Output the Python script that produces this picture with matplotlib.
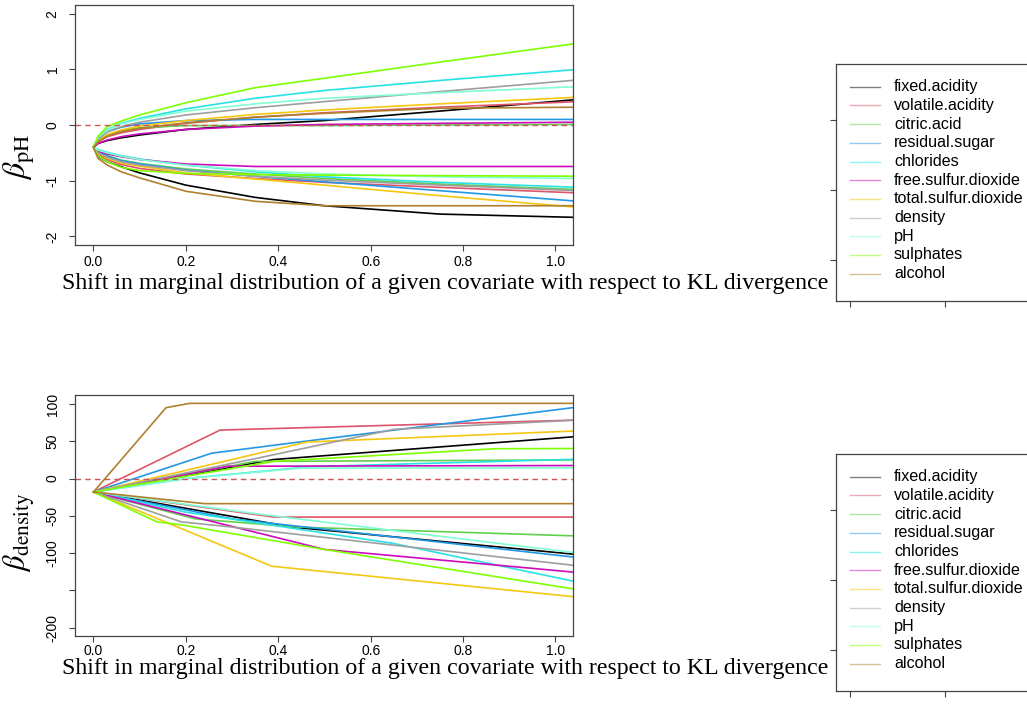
import matplotlib
matplotlib.use('Agg')
import matplotlib.pyplot as plt

plt.rcParams['font.family'] = ['Liberation Sans', 'DejaVu Sans']
plt.rcParams['mathtext.fontset'] = 'stix'
plt.rcParams['axes.unicode_minus'] = False

names = ['fixed.acidity', 'volatile.acidity', 'citric.acid', 'residual.sugar',
         'chlorides', 'free.sulfur.dioxide', 'total.sulfur.dioxide', 'density',
         'pH', 'sulphates', 'alcohol']
colors = ['black', '#DF536B', '#61D04F', '#2297E6', '#28E2E5', '#CD0BBC',
          '#F5C710', '#9E9E9E', '#7FFFD4', '#7FFF00', '#B0802E']

# panel 1: beta_pH, shift grid shared by all covariates
ph_x = [0, 0.01, 0.03, 0.06, 0.1, 0.2, 0.35, 0.5, 0.75, 1.05]
ph_up = [
    [-0.4, -0.33, -0.28, -0.23, -0.18, -0.08, 0.01, 0.08, 0.25, 0.46],
    [-0.4, -0.30, -0.21, -0.14, -0.08, 0.03, 0.14, 0.22, 0.32, 0.42],
    [-0.4, -0.28, -0.18, -0.10, -0.05, -0.01, -0.01, -0.01, 0.00, 0.01],
    [-0.4, -0.25, -0.12, -0.04, 0.02, 0.08, 0.10, 0.10, 0.10, 0.10],
    [-0.4, -0.22, -0.08, 0.03, 0.12, 0.29, 0.48, 0.62, 0.80, 1.00],
    [-0.4, -0.33, -0.27, -0.21, -0.16, -0.08, -0.02, 0.01, 0.03, 0.05],
    [-0.4, -0.28, -0.17, -0.09, -0.02, 0.08, 0.19, 0.27, 0.38, 0.50],
    [-0.4, -0.25, -0.12, -0.03, 0.05, 0.18, 0.31, 0.42, 0.60, 0.81],
    [-0.4, -0.22, -0.09, 0.02, 0.10, 0.25, 0.38, 0.48, 0.58, 0.69],
    [-0.4, -0.20, -0.03, 0.07, 0.18, 0.40, 0.67, 0.84, 1.13, 1.47],
    [-0.4, -0.30, -0.20, -0.12, -0.06, 0.04, 0.14, 0.21, 0.30, 0.32],
]
ph_down = [
    [-0.4, -0.56, -0.66, -0.75, -0.86, -1.08, -1.30, -1.45, -1.60, -1.66],
    [-0.4, -0.52, -0.62, -0.71, -0.78, -0.88, -0.96, -1.03, -1.12, -1.22],
    [-0.4, -0.47, -0.55, -0.63, -0.69, -0.79, -0.88, -0.96, -1.06, -1.16],
    [-0.4, -0.48, -0.56, -0.64, -0.70, -0.81, -0.92, -1.02, -1.18, -1.37],
    [-0.4, -0.44, -0.49, -0.55, -0.61, -0.72, -0.84, -0.93, -1.03, -1.12],
    [-0.4, -0.47, -0.52, -0.57, -0.62, -0.70, -0.745, -0.745, -0.745, -0.745],
    [-0.4, -0.50, -0.60, -0.68, -0.74, -0.86, -0.97, -1.08, -1.27, -1.48],
    [-0.4, -0.50, -0.58, -0.66, -0.72, -0.82, -0.92, -0.99, -1.08, -1.18],
    [-0.4, -0.45, -0.50, -0.56, -0.62, -0.72, -0.82, -0.88, -0.93, -0.96],
    [-0.4, -0.55, -0.66, -0.76, -0.82, -0.87, -0.89, -0.90, -0.91, -0.92],
    [-0.4, -0.60, -0.72, -0.84, -0.95, -1.19, -1.37, -1.45, -1.45, -1.45],
]

# panel 2: beta_density, each covariate has its own shift points
dens_up_x = [
    [0, 0.39, 1.05], [0, 0.274, 1.05], [0, 0.35, 1.05], [0, 0.256, 0.433, 1.05],
    [0, 0.2, 0.47, 1.05], [0, 0.29, 1.05], [0, 0.462, 1.05], [0, 0.36, 0.65, 1.05],
    [0, 0.2, 0.45, 1.05], [0, 0.39, 0.87, 1.05], [0, 0.157, 0.208, 1.05],
]
dens_up_y = [
    [-18, 25.5, 56.5], [-18, 65, 78.5], [-18, 23, 25], [-18, 34, 48, 96],
    [-18, 0, 16, 26], [-18, 16.5, 17.5], [-18, 49, 64], [-18, 28, 66, 78.5],
    [-18, 0, 14, 14.3], [-18, 23, 40, 40.3], [-18, 95, 100.8, 100.8],
]
dens_down_x = [
    [0, 0.43, 1.0, 1.05], [0, 0.39, 1.05], [0, 0.22, 0.44, 1.05], [0, 0.3, 1.05],
    [0, 0.2, 0.65, 1.05], [0, 0.39, 0.5, 1.05], [0, 0.386, 1.05], [0, 0.19, 0.3, 1.05],
    [0, 0.35, 1.05], [0, 0.137, 0.19, 0.5, 1.05], [0, 0.24, 1.05],
]
dens_down_y = [
    [-18, -65, -99, -102], [-18, -51.6, -51.6], [-18, -54, -65, -77], [-18, -54, -106],
    [-18, -45, -87, -139], [-18, -78, -95, -126], [-18, -117.5, -159], [-18, -58, -65, -117],
    [-18, -47, -100], [-18, -58, -62, -95, -149], [-18, -33.6, -33.6],
]

xlabel = 'Shift in marginal distribution of a given covariate with respect to KL divergence'

W, H = 1027, 704
fig = plt.figure(figsize=(W / 100, H / 100), dpi=100)


def style_axes(ax, xpad):
    for s in ax.spines.values():
        s.set_color('#444444')
        s.set_linewidth(0.9)
    ax.tick_params(direction='out', length=4.5, width=0.8, color='#444444',
                   labelsize=10)
    ax.tick_params(axis='x', pad=xpad)
    ax.tick_params(axis='y', pad=6.5, labelrotation=90)
    for lab in ax.get_yticklabels():
        lab.set_va('center')


def legend_box(top_px):
    lax = fig.add_axes([836 / W, (H - top_px - 237) / H, 300 / W, 237 / H])
    lax.set_xlim(0, 300)
    lax.set_ylim(237, 0)
    lax.set_xticks([14, 109, 204])
    lax.set_yticks([56, 126, 196])
    lax.tick_params(direction='out', length=4.5, width=0.8, color='#444444',
                    labelbottom=False, labelleft=False)
    for s in lax.spines.values():
        s.set_color('#444444')
        s.set_linewidth(0.9)
    for i, (n, c) in enumerate(zip(names, colors)):
        y = 22.7 + i * 18.7
        lax.plot([14, 44], [y, y], color=c, lw=1.0, alpha=0.5)
        lax.text(58, y, n, fontsize=11.6, va='center', ha='left')


# top panel
ax1 = fig.add_axes([75 / W, (H - 245) / H, 498 / W, 240 / H])
for i, c in enumerate(colors):
    ax1.plot(ph_x, ph_up[i], color=c, lw=1.2)
    ax1.plot(ph_x, ph_down[i], color=c, lw=1.2)
ax1.axhline(0, color='#CC5555', lw=1.0, ls=(0, (4, 3)))
ax1.set_xlim(-0.04, 1.038)
ax1.set_ylim(-2.155, 2.155)
ax1.set_xticks([0, 0.2, 0.4, 0.6, 0.8, 1.0])
ax1.set_xticklabels(['0.0', '0.2', '0.4', '0.6', '0.8', '1.0'])
ax1.set_yticks([-2, -1, 0, 1, 2])
style_axes(ax1, 3)
fig.text(19 / W, 1 - 157 / H, r'$\beta_{\mathrm{pH}}$', rotation=90,
         fontsize=23, ha='center', va='center')
fig.text(445 / W, 1 - 283 / H, xlabel, fontsize=17.2, ha='center', va='center',
         family=['Liberation Serif', 'DejaVu Serif'])
legend_box(64)

# bottom panel
ax2 = fig.add_axes([75 / W, (H - 636) / H, 498 / W, 241 / H])
for i, c in enumerate(colors):
    ax2.plot(dens_up_x[i], dens_up_y[i], color=c, lw=1.2)
    ax2.plot(dens_down_x[i], dens_down_y[i], color=c, lw=1.2)
ax2.axhline(0, color='#CC5555', lw=1.0, ls=(0, (4, 3)))
ax2.set_xlim(-0.04, 1.038)
ax2.set_ylim(-211, 112)
ax2.set_xticks([0, 0.2, 0.4, 0.6, 0.8, 1.0])
ax2.set_xticklabels(['0.0', '0.2', '0.4', '0.6', '0.8', '1.0'])
ax2.set_yticks([-200, -150, -100, -50, 0, 50, 100])
ax2.set_yticklabels(['-200', '', '-100', '-50', '0', '50', '100'])
style_axes(ax2, 1)
fig.text(19 / W, 1 - 532 / H, r'$\beta_{\mathrm{density}}$', rotation=90,
         fontsize=22, ha='center', va='center')
fig.text(445 / W, 1 - 658 / H, xlabel, fontsize=17.2, ha='center', va='top',
         family=['Liberation Serif', 'DejaVu Serif'])
legend_box(454)

fig.savefig('out.png', dpi=100)
